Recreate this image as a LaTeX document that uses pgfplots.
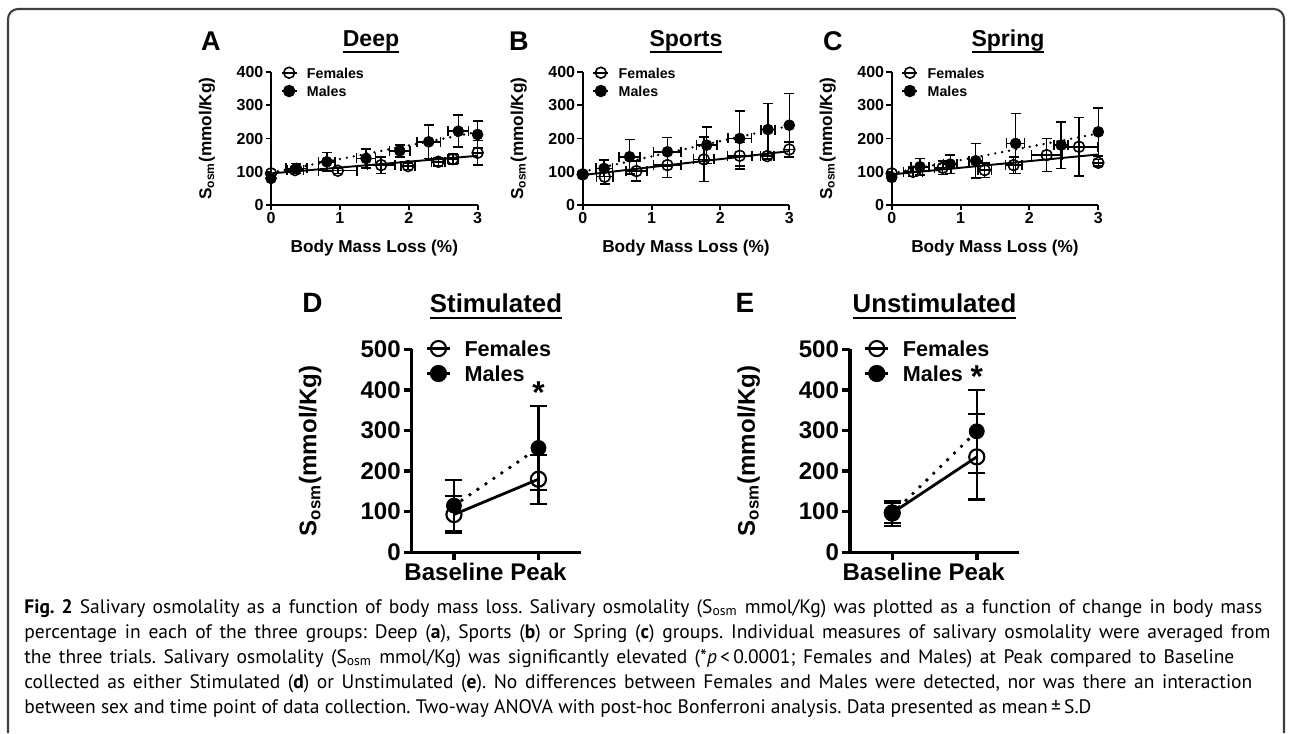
\documentclass[border=0pt]{standalone}
\usepackage{pgfplots}
\pgfplotsset{compat=1.18}
\usepackage{fontspec}
\setmainfont{Liberation Sans}
\newfontfamily\capfont{PT Sans}

\newcommand\fs[1]{\fontsize{#1pt}{#1pt}\selectfont}
\newsavebox\tbox
% underlined panel title: #1 rule depth, #2 rule thickness, #3 text
\newcommand\ttl[3]{\sbox\tbox{#3}\rlap{\rule[#1]{\wd\tbox}{#2}}\usebox\tbox}

\pgfplotsset{
  top/.style={
    scale only axis, clip=false, width=4.132cm, height=2.66cm,
    axis lines=left, axis line style={-, line width=1.1pt},
    tick align=outside, major tick length=0.11cm,
    tick style={black, line width=1.1pt},
    xmin=0, xmax=3, ymin=0, ymax=400,
    xtick={0,1,2,3}, ytick={0,100,200,300,400},
    /pgf/number format/assume math mode=true,
    tick label style={font=\bfseries\fs{9.1}, inner sep=1pt},
    label style={font=\bfseries\fs{9.8}},
    xlabel={Body Mass Loss (\%)},
    ylabel={S\textsubscript{osm}(mmol/Kg)},
    xlabel style={at={(axis description cs:0.5,-0.323)}, anchor=center},
    ylabel style={at={(axis description cs:-0.31,0.5)}, anchor=center},
    legend style={draw=none, fill=none, at={(axis description cs:0.046,1.038)},
      anchor=north west, font=\bfseries\fs{8.1}, row sep=4.2pt, inner sep=0pt,
      nodes={inner sep=0pt, text height=6pt, text depth=0pt},
      /tikz/every odd column/.append style={column sep=0.19cm}},
    legend cell align=left,
    legend image code/.code={\draw[mark repeat=2,mark phase=2,##1] plot coordinates {(0cm,0cm) (0.15cm,0cm) (0.3cm,0cm)};},
  },
  fline/.style={black, line width=1.1pt, forget plot},
  mline/.style={black, line width=1.5pt, dash pattern=on 0pt off 4pt, line cap=round, forget plot},
  topF/.style={only marks, black, mark=o, mark size=3.1pt, mark options={line width=0.9pt, solid},
    forget plot,
    error bars/.cd, x dir=both, x explicit, y dir=both, y explicit,
    error bar style={line width=0.85pt, solid},
    error mark options={rotate=90, mark size=0.1cm, line width=0.85pt}},
  topM/.style={only marks, black, mark=*, mark size=3.1pt, mark options={fill=black, solid},
    forget plot,
    error bars/.cd, x dir=both, x explicit, y dir=both, y explicit,
    error bar style={line width=0.85pt, solid},
    error mark options={rotate=90, mark size=0.1cm, line width=0.85pt}},
  bot/.style={
    scale only axis, clip=false, width=3.38cm, height=4.06cm,
    axis lines=left, axis line style={-, line width=2pt},
    tick align=outside, major tick length=0.16cm,
    tick style={black, line width=2pt},
    xmin=0.5, xmax=2.5, ymin=0, ymax=500,
    xtick={1,2}, xticklabels={Baseline, Peak}, ytick={0,100,...,500},
    /pgf/number format/assume math mode=true,
    tick label style={font=\bfseries\fs{13.7}, inner sep=1.5pt},
    label style={font=\bfseries\fs{13.7}},
    ylabel={S\textsubscript{osm}(mmol/Kg)},
    ylabel style={at={(axis description cs:-0.6,0.5)}, anchor=center},
    legend style={draw=none, fill=none, at={(axis description cs:0.082,1.044)},
      anchor=north west, font=\bfseries\fs{12.3}, row sep=5.3pt, inner sep=0pt,
      nodes={inner sep=0pt, text height=8.9pt, text depth=0pt},
      /tikz/every odd column/.append style={column sep=0.27cm}},
    legend cell align=left,
    legend image code/.code={\draw[mark repeat=2,mark phase=2,##1] plot coordinates {(0cm,0cm) (0.23cm,0cm) (0.46cm,0cm)};},
  },
  bline/.style={black, line width=1.6pt, forget plot},
  bmline/.style={black, line width=2.2pt, dash pattern=on 0pt off 5.5pt, line cap=round, forget plot},
  botF/.style={only marks, black, mark=o, mark size=4.3pt, mark options={line width=1.2pt, solid},
    forget plot,
    error bars/.cd, y dir=both, y explicit,
    error bar style={line width=1.2pt, solid},
    error mark options={rotate=90, mark size=0.17cm, line width=1.2pt}},
  botM/.style={only marks, black, mark=*, mark size=4.3pt, mark options={fill=black, solid},
    forget plot,
    error bars/.cd, y dir=both, y explicit,
    error bar style={line width=1.2pt, solid},
    error mark options={rotate=90, mark size=0.17cm, line width=1.2pt}},
}

\begin{document}
\frenchspacing
\begin{tikzpicture}
\useasboundingbox (0,0) rectangle (25.84,14.66);
% frame
\draw[line width=1.2pt, black!75, rounded corners=0.2cm] (0.16,0) -- (0.16,14.48) -- (25.68,14.48) -- (25.68,0);

% ---------- A: Deep ----------
\node[font=\bfseries\fs{15.4}] at (4.22,13.84) {A};
\node[anchor=base, font=\bfseries\fs{13.1}] at (7.42,13.72) {\ttl{-3.4pt}{1.15pt}{Deep}};
\begin{axis}[top, at={(5.42cm,10.56cm)}, anchor=south west]
\addlegendimage{black, line width=0.9pt, mark=o, mark size=3.1pt}
\addlegendentry{Females}
\addlegendimage{black, line width=0.9pt, mark=*, mark size=3.1pt, mark options={fill=black}}
\addlegendentry{Males}
\addplot[fline] coordinates {(0,95) (3,148)};
\addplot[mline] coordinates {(0,97) (3,220)};
\addplot[topF] table[x=x, y=y, x error=ex, y error=ey] {
x y ex ey
0 95 0 0
0.35 105 0.12 10
0.97 103 0.28 8
1.60 120 0.20 25
1.99 117 0.10 10
2.43 130 0.10 12
2.64 138 0.08 15
3.00 157 0 37
};
\addplot[topM] table[x=x, y=y, x error=ex, y error=ey] {
x y ex ey
0 80 0 0
0.37 110 0.15 15
0.81 130 0.12 28
1.38 140 0.14 28
1.87 163 0.15 18
2.29 190 0.17 50
2.72 222 0.15 48
3.00 212 0 40
};
\end{axis}

% ---------- B: Sports ----------
\node[font=\bfseries\fs{15.4}] at (10.38,13.84) {B};
\node[anchor=base, font=\bfseries\fs{13.1}] at (13.72,13.72) {\ttl{-3.4pt}{1.15pt}{Sports}};
\begin{axis}[top, at={(11.654cm,10.56cm)}, anchor=south west]
\addlegendimage{black, line width=0.9pt, mark=o, mark size=3.1pt}
\addlegendentry{Females}
\addlegendimage{black, line width=0.9pt, mark=*, mark size=3.1pt, mark options={fill=black}}
\addlegendentry{Males}
\addplot[fline] coordinates {(0,90) (3,162)};
\addplot[mline] coordinates {(0,100) (3,238)};
\addplot[topF] table[x=x, y=y, x error=ex, y error=ey] {
x y ex ey
0 92 0 0
0.32 85 0.12 22
0.78 102 0.15 30
1.23 120 0.20 38
1.76 137 0.15 67
2.28 148 0.18 40
2.68 147 0.10 8
3.00 167 0 22
};
\addplot[topM] table[x=x, y=y, x error=ex, y error=ey] {
x y ex ey
0 92 0 0
0.31 110 0.12 25
0.68 145 0.15 52
1.23 160 0.20 43
1.80 180 0.15 55
2.28 200 0.17 83
2.69 227 0.10 78
3.00 240 0 95
};
\end{axis}

% ---------- C: Spring ----------
\node[font=\bfseries\fs{15.4}] at (16.66,13.84) {C};
\node[anchor=base, font=\bfseries\fs{13.1}] at (20.16,13.72) {\ttl{-3.4pt}{1.15pt}{Spring}};
\begin{axis}[top, at={(17.834cm,10.56cm)}, anchor=south west]
\addlegendimage{black, line width=0.9pt, mark=o, mark size=3.1pt}
\addlegendentry{Females}
\addlegendimage{black, line width=0.9pt, mark=*, mark size=3.1pt, mark options={fill=black}}
\addlegendentry{Males}
\addplot[fline] coordinates {(0,92) (3,152)};
\addplot[mline] coordinates {(0,95) (3,215)};
\addplot[topF] table[x=x, y=y, x error=ex, y error=ey] {
x y ex ey
0 95 0 0
0.31 100 0.14 15
0.74 112 0.12 20
1.35 105 0.10 22
1.77 120 0.12 25
2.25 150 0.22 50
2.72 175 0.27 88
3.00 127 0 10
};
\addplot[topM] table[x=x, y=y, x error=ex, y error=ey] {
x y ex ey
0 83 0 0
0.41 115 0.13 25
0.85 123 0.10 28
1.22 133 0.10 52
1.80 185 0.13 90
2.46 180 0.10 70
3.00 220 0 72
};
\end{axis}

% ---------- D: Stimulated ----------
\node[font=\bfseries\fs{15.9}] at (6.25,8.61) {D};
\node[anchor=base, font=\bfseries\fs{14.7}] at (9.92,8.40) {\ttl{-3.6pt}{1.4pt}{Stimulated}};
\begin{axis}[bot, at={(8.234cm,3.614cm)}, anchor=south west]
\addlegendimage{black, line width=1.2pt, mark=o, mark size=4.3pt}
\addlegendentry{Females}
\addlegendimage{black, line width=1.2pt, mark=*, mark size=4.3pt, mark options={fill=black}}
\addlegendentry{Males}
\addplot[bline] coordinates {(1,93) (2,180)};
\addplot[bmline] coordinates {(1,115) (2,257)};
\addplot[botF] table[x=x, y=y, y error=ey] {
x y ey
1 93 45
2 180 60
};
\addplot[botM] table[x=x, y=y, y error=ey] {
x y ey
1 115 63
2 257 103
};
\node[anchor=north, font=\bfseries\fs{18}, inner sep=0pt] at (axis cs:2,421) {*};
\end{axis}

% ---------- E: Unstimulated ----------
\node[font=\bfseries\fs{15.9}] at (14.9,8.61) {E};
\node[anchor=base, font=\bfseries\fs{14.7}] at (18.69,8.40) {\ttl{-3.6pt}{1.4pt}{Unstimulated}};
\begin{axis}[bot, at={(17.0cm,3.614cm)}, anchor=south west]
\addlegendimage{black, line width=1.2pt, mark=o, mark size=4.3pt}
\addlegendentry{Females}
\addlegendimage{black, line width=1.2pt, mark=*, mark size=4.3pt, mark options={fill=black}}
\addlegendentry{Males}
\addplot[bline] coordinates {(1,97) (2,235)};
\addplot[bmline] coordinates {(1,95) (2,298)};
\addplot[botF] table[x=x, y=y, y error=ey] {
x y ey
1 97 25
2 235 105
};
\addplot[botM] table[x=x, y=y, y error=ey] {
x y ey
1 95 30
2 298 102
};
\node[anchor=north, font=\bfseries\fs{18}, inner sep=0pt] at (axis cs:2,460) {*};
\end{axis}

% ---------- caption ----------
\begin{scope}[every node/.style={anchor=base west, inner sep=0pt, font=\capfont\fs{11.1}}]
\node at (0.48,2.40) {\makebox[24.76cm][s]{\textbf{Fig. 2} Salivary osmolality as a function of body mass loss. Salivary osmolality (S\textsubscript{osm} mmol/Kg) was plotted as a function of change in body mass}};
\node at (0.48,1.90) {\makebox[24.92cm][s]{percentage in each of the three groups: Deep (\textbf{a}), Sports (\textbf{b}) or Spring (\textbf{c}) groups. Individual measures of salivary osmolality were averaged from}};
\node at (0.48,1.40) {\makebox[24.20cm][s]{the three trials. Salivary osmolality (S\textsubscript{osm} mmol/Kg) was significantly elevated (*\textit{p}\,<\,0.0001; Females and Males) at Peak compared to Baseline}};
\node at (0.48,0.90) {\makebox[24.56cm][s]{collected as either Stimulated (\textbf{d}) or Unstimulated (\textbf{e}). No differences between Females and Males were detected, nor was there an interaction}};
\node at (0.48,0.40) {between sex and time point of data collection. Two-way ANOVA with post-hoc Bonferroni analysis. Data presented as mean\,±\,S.D};
\end{scope}
\end{tikzpicture}
\end{document}
